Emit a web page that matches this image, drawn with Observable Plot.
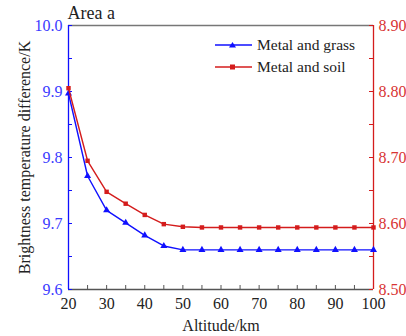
<!DOCTYPE html>
<html><head><meta charset="utf-8">
<script src="https://cdn.jsdelivr.net/npm/d3@7"></script>
<script src="https://cdn.jsdelivr.net/npm/@observablehq/plot@0.6"></script>
<style>
body{margin:0;background:#fff;}
#wrap{position:relative;width:406px;height:336px;overflow:hidden;font-family:"Liberation Serif","Times New Roman",serif;}
#legend{position:absolute;left:214px;top:34px;font-size:15.5px;color:#222;line-height:22px;}
#legend .row{display:flex;align-items:center;height:22px;}
#legend svg{margin-right:4px;}
</style></head><body><div id="wrap"><div id="legend"></div></div>
<script>
const altitude = [20,25,30,35,40,45,50,55,60,65,70,75,80,85,90,95,100];
const grass = [9.897,9.772,9.720,9.701,9.682,9.666,9.660,9.660,9.660,9.660,9.660,9.660,9.660,9.660,9.660,9.660,9.660];
const soil  = [8.805,8.695,8.648,8.630,8.613,8.599,8.595,8.594,8.594,8.594,8.594,8.594,8.594,8.594,8.594,8.594,8.594];
const seriesNames = ["Metal and grass","Metal and soil"];
const xTickLabels = [20,30,40,50,60,70,80,90,100];
const xMinorTicks = [20,25,30,35,40,45,50,55,60,65,70,75,80,85,90,95,100];
const leftTickLabels = [9.6,9.7,9.8,9.9,10.0];
const leftMinorTicks = [9.6,9.65,9.7,9.75,9.8,9.85,9.9,9.95,10.0];
const rightTickLabels = [8.50,8.60,8.70,8.80,8.90];
const OFFSET = 10.0 - 8.90; // right axis shares the left scale, shifted

const BLUE = "#1010ff", BLUE_T = "#3a3aff", RED = "#d41c1c", RED_T = "#d83434";
const rows = altitude.map((a,i)=>({a, grass: grass[i], soil: soil[i]}));
const W = 406, H = 336, mL = 68, mR = 33, mT = 25, mB = 47;
const fw = W - mL - mR, fh = H - mT - mB;

const chart = Plot.plot({
  width: W, height: H, marginLeft: mL, marginRight: mR, marginTop: mT, marginBottom: mB,
  style: {fontFamily: '"Liberation Serif","Times New Roman",serif', fontSize: "16px", background: "#fff", overflow: "visible"},
  x: {domain: [20,100]},
  y: {domain: [9.6,10.0]},
  marks: [
    Plot.ruleY([10.0], {stroke: "#777", strokeWidth: 1.3}),
    Plot.ruleY([9.6], {stroke: "#555", strokeWidth: 1.3}),
    Plot.tickX(xMinorTicks, {x: d=>d, insetTop: fh - 4, stroke: "#555"}),
    Plot.tickY(leftMinorTicks, {y: d=>d, insetRight: fw - 4, stroke: BLUE}),
    Plot.tickY(leftMinorTicks, {y: d=>d, insetLeft: fw - 4, stroke: RED}),
    Plot.ruleX([20], {stroke: BLUE, strokeWidth: 1.3}),
    Plot.ruleX([100], {stroke: RED, strokeWidth: 1.3}),
    Plot.axisX({ticks: xTickLabels, tickSize: 0, tickPadding: 8, fontSize: 16, fill: "#222", label: null}),
    Plot.axisY({ticks: leftTickLabels, tickSize: 0, tickPadding: 6, fontSize: 16, fill: BLUE_T, tickFormat: d3.format(".1f"), label: null}),
    Plot.axisY({anchor: "right", ticks: rightTickLabels.map(v=>v+OFFSET), tickSize: 0, tickPadding: 5, fontSize: 16, fill: RED_T, tickFormat: d => (d - OFFSET).toFixed(2), label: null}),
    Plot.line(rows, {x: "a", y: "grass", stroke: BLUE, strokeWidth: 1.4}),
    Plot.dot(rows, {x: "a", y: "grass", symbol: "triangle", r: 2.6, fill: BLUE, stroke: null}),
    Plot.line(rows, {x: "a", y: d => d.soil + OFFSET, stroke: RED, strokeWidth: 1.4}),
    Plot.dot(rows, {x: "a", y: d => d.soil + OFFSET, symbol: "square", r: 2.5, fill: RED, stroke: null}),
    Plot.text(["Area a"], {frameAnchor: "top-left", text: d=>d, dy: -19, dx: -1, fontSize: 18, fill: "#222", textAnchor: "start", lineAnchor: "top"}),
    Plot.text(["Brightness temperature difference/K"], {frameAnchor: "left", text: d=>d, rotate: -90, dx: -44, fontSize: 16, fill: "#222", textAnchor: "middle", lineAnchor: "middle"}),
    Plot.text(["Altitude/km"], {frameAnchor: "bottom", text: d=>d, dy: 36, fontSize: 16, fill: "#222", textAnchor: "middle", lineAnchor: "middle"})
  ]
});
document.getElementById("wrap").prepend(chart);

const legend = document.getElementById("legend");
[[seriesNames[0], BLUE, "tri"], [seriesNames[1], RED, "sq"]].forEach(([name, c, s]) => {
  const row = document.createElement("div"); row.className = "row";
  const sym = s === "tri" ? `<path d="M18.5,8 L22,13.5 L15,13.5 Z" fill="${c}"/>` : `<rect x="16" y="8.5" width="5" height="5" fill="${c}"/>`;
  row.innerHTML = `<svg width="39" height="22"><line x1="1" x2="38" y1="11" y2="11" stroke="${c}" stroke-width="1.4"/>${sym}</svg><span>${name}</span>`;
  legend.appendChild(row);
});
</script></body></html>
